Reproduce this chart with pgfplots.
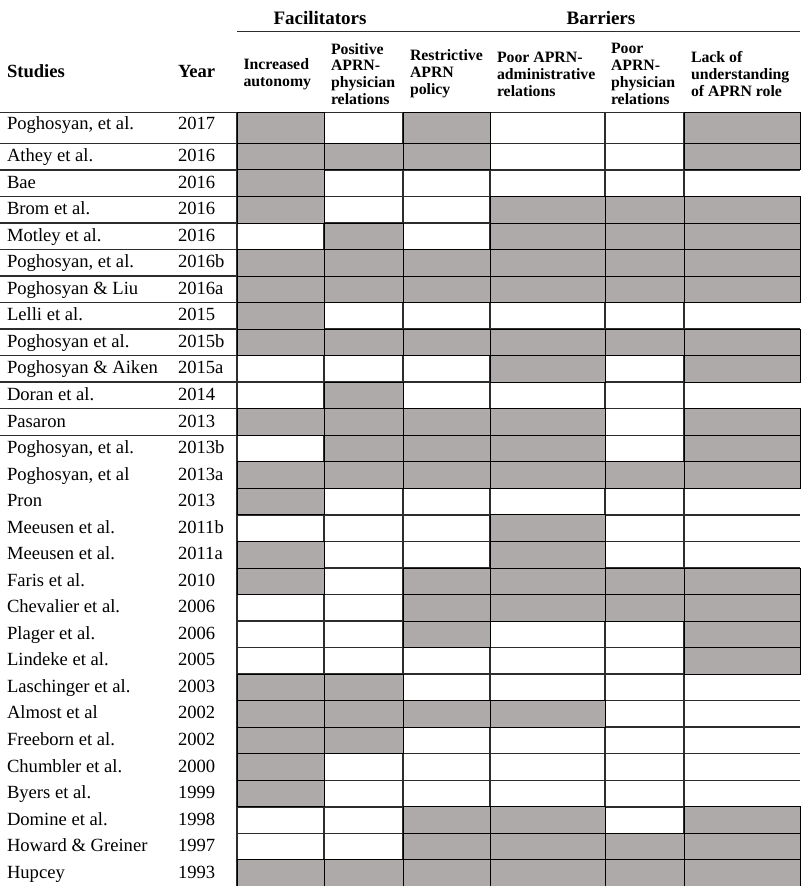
\documentclass[border=0pt]{standalone}
\usepackage{fontspec}
\setmainfont{Liberation Serif}
\usepackage{pgfplots}
\usepackage{pgfplotstable}
\pgfplotsset{compat=1.18}
\definecolor{cellgray}{RGB}{173,170,169}
\definecolor{gridc}{RGB}{45,45,45}

% row 1 (taller row)
\pgfplotstableread{
yc c1 c2 c3 c4 c5 c6
128.0 1 0 1 0 0 1
}\rowone
% rows 2..29 : yc = row centre (px from top)
\pgfplotstableread{
yc c1 c2 c3 c4 c5 c6
156.57 1 1 1 0 0 1
183.11 1 0 0 0 0 0
209.65 1 0 0 1 1 1
236.19 0 1 0 1 1 1
262.73 1 1 1 1 1 1
289.27 1 1 1 1 1 1
315.81 1 0 0 0 0 0
342.35 1 1 1 1 1 1
368.89 0 0 0 1 0 1
395.43 0 1 0 0 0 0
421.97 1 1 1 1 0 1
448.51 0 1 1 1 0 1
475.05 1 1 1 1 1 1
501.59 1 0 0 0 0 0
528.13 0 0 0 1 0 0
554.67 1 0 0 1 0 0
581.21 1 0 1 1 1 1
607.75 0 0 1 1 1 1
634.29 0 0 1 0 0 1
660.83 0 0 0 0 0 1
687.37 1 1 0 0 0 0
713.91 1 1 1 1 0 0
740.45 1 1 0 0 0 0
766.99 1 0 0 0 0 0
793.53 1 0 0 0 0 0
820.07 0 0 1 1 0 1
846.61 0 0 1 1 1 1
873.15 1 1 1 1 1 1
}\rowsrest

\newcommand\cellplot[5]{%
  \addplot[only marks, mark=square*, mark size=#5,
    mark options={xscale=#4, draw=none, fill=cellgray},
    restrict expr to domain={\thisrow{#2}}{0.5:1.5}]
    table[x expr=#3, y=yc]{#1};}

\newcommand\bodyfont{\fontsize{9.3}{11}\selectfont}
\newcommand\headfont{\fontsize{7.9}{8.45}\selectfont\bfseries}

\begin{document}
\begin{tikzpicture}[every node/.style={inner sep=0pt, outer sep=0pt}]
\begin{axis}[
  scale only axis, width=400pt, height=443pt,
  xmin=0, xmax=800, ymin=0, ymax=886, y dir=reverse,
  hide axis, clip=false,
]
% filled cells
\cellplot{\rowone}{c1}{280.5}{2.843}{7.65pt}
\cellplot{\rowone}{c2}{363.5}{2.582}{7.65pt}
\cellplot{\rowone}{c3}{446.5}{2.843}{7.65pt}
\cellplot{\rowone}{c4}{547.5}{3.758}{7.65pt}
\cellplot{\rowone}{c5}{644.5}{2.582}{7.65pt}
\cellplot{\rowone}{c6}{742.0}{3.791}{7.65pt}
\cellplot{\rowsrest}{c1}{280.5}{3.278}{6.635pt}
\cellplot{\rowsrest}{c2}{363.5}{2.977}{6.635pt}
\cellplot{\rowsrest}{c3}{446.5}{3.278}{6.635pt}
\cellplot{\rowsrest}{c4}{547.5}{4.333}{6.635pt}
\cellplot{\rowsrest}{c5}{644.5}{2.977}{6.635pt}
\cellplot{\rowsrest}{c6}{742.0}{4.371}{6.635pt}

% grid lines
\draw[gridc, line width=0.65pt] (axis cs:237,31.7) -- (axis cs:800,31.7);
\draw[gridc, line width=0.75pt] (axis cs:0,112.7) -- (axis cs:800,112.7);
\pgfplotsinvokeforeach{0,...,11}{
  \draw[gridc, line width=0.7pt] (axis cs:0,{143.3+#1*26.54}) -- (axis cs:800,{143.3+#1*26.54});
}
\pgfplotsinvokeforeach{12,...,27}{
  \draw[gridc, line width=0.7pt] (axis cs:237,{143.3+#1*26.54}) -- (axis cs:800,{143.3+#1*26.54});
}
\draw[gridc, line width=0.9pt] (axis cs:237,112.7) -- (axis cs:237,886);
\pgfplotsinvokeforeach{324,403,490,605,684}{
  \draw[gridc, line width=0.7pt] (axis cs:#1,112.7) -- (axis cs:#1,886);
}

% headers
\node[anchor=base, font=\fontsize{9.5}{11}\selectfont\bfseries] at (axis cs:320,25) {Facilitators};
\node[anchor=base, font=\fontsize{9.5}{11}\selectfont\bfseries] at (axis cs:601,25) {Barriers};
\node[anchor=base west, font=\fontsize{9.3}{11}\selectfont\bfseries] at (axis cs:7,78) {Studies};
\node[anchor=base west, font=\fontsize{9.3}{11}\selectfont\bfseries] at (axis cs:178,78) {Year};
\node[anchor=west, align=left, font=\headfont] at (axis cs:243.5,74) {Increased\\autonomy};
\node[anchor=west, align=left, font=\headfont] at (axis cs:331,74) {Positive\\APRN-\\physician\\relations};
\node[anchor=west, align=left, font=\headfont] at (axis cs:410,74) {Restrictive\\APRN\\policy};
\node[anchor=west, align=left, font=\headfont] at (axis cs:497,74) {Poor APRN-\\administrative\\relations};
\node[anchor=west, align=left, font=\headfont] at (axis cs:611,74) {Poor\\APRN-\\physician\\relations};
\node[anchor=west, align=left, font=\headfont] at (axis cs:691,74) {Lack of\\understanding\\of APRN role};

% study names and years
\newcommand\srow[3]{%
  \node[anchor=base west, font=\bodyfont] at (axis cs:7,#1) {#2};
  \node[anchor=base west, font=\bodyfont] at (axis cs:178,#1) {#3};}
\srow{129.5}{Poghosyan, et al.}{2017}
\srow{161.6}{Athey et al.}{2016}
\srow{188.1}{Bae}{2016}
\srow{214.7}{Brom et al.}{2016}
\srow{241.2}{Motley et al.}{2016}
\srow{267.7}{Poghosyan, et al.}{2016b}
\srow{294.3}{Poghosyan \& Liu}{2016a}
\srow{320.8}{Lelli et al.}{2015}
\srow{347.4}{Poghosyan et al.}{2015b}
\srow{373.9}{Poghosyan \& Aiken}{2015a}
\srow{400.4}{Doran et al.}{2014}
\srow{427.0}{Pasaron}{2013}
\srow{453.5}{Poghosyan, et al.}{2013b}
\srow{480.1}{Poghosyan, et al}{2013a}
\srow{506.6}{Pron}{2013}
\srow{533.1}{Meeusen et al.}{2011b}
\srow{559.7}{Meeusen et al.}{2011a}
\srow{586.2}{Faris et al.}{2010}
\srow{612.8}{Chevalier et al.}{2006}
\srow{639.3}{Plager et al.}{2006}
\srow{665.8}{Lindeke et al.}{2005}
\srow{692.4}{Laschinger et al.}{2003}
\srow{718.9}{Almost et al}{2002}
\srow{745.5}{Freeborn et al.}{2002}
\srow{772.0}{Chumbler et al.}{2000}
\srow{798.5}{Byers et al.}{1999}
\srow{825.1}{Domine et al.}{1998}
\srow{851.6}{Howard \& Greiner}{1997}
\srow{878.2}{Hupcey}{1993}
\end{axis}
\pgfresetboundingbox
\path (current axis.south west) rectangle (current axis.north east);
\end{tikzpicture}
\end{document}
